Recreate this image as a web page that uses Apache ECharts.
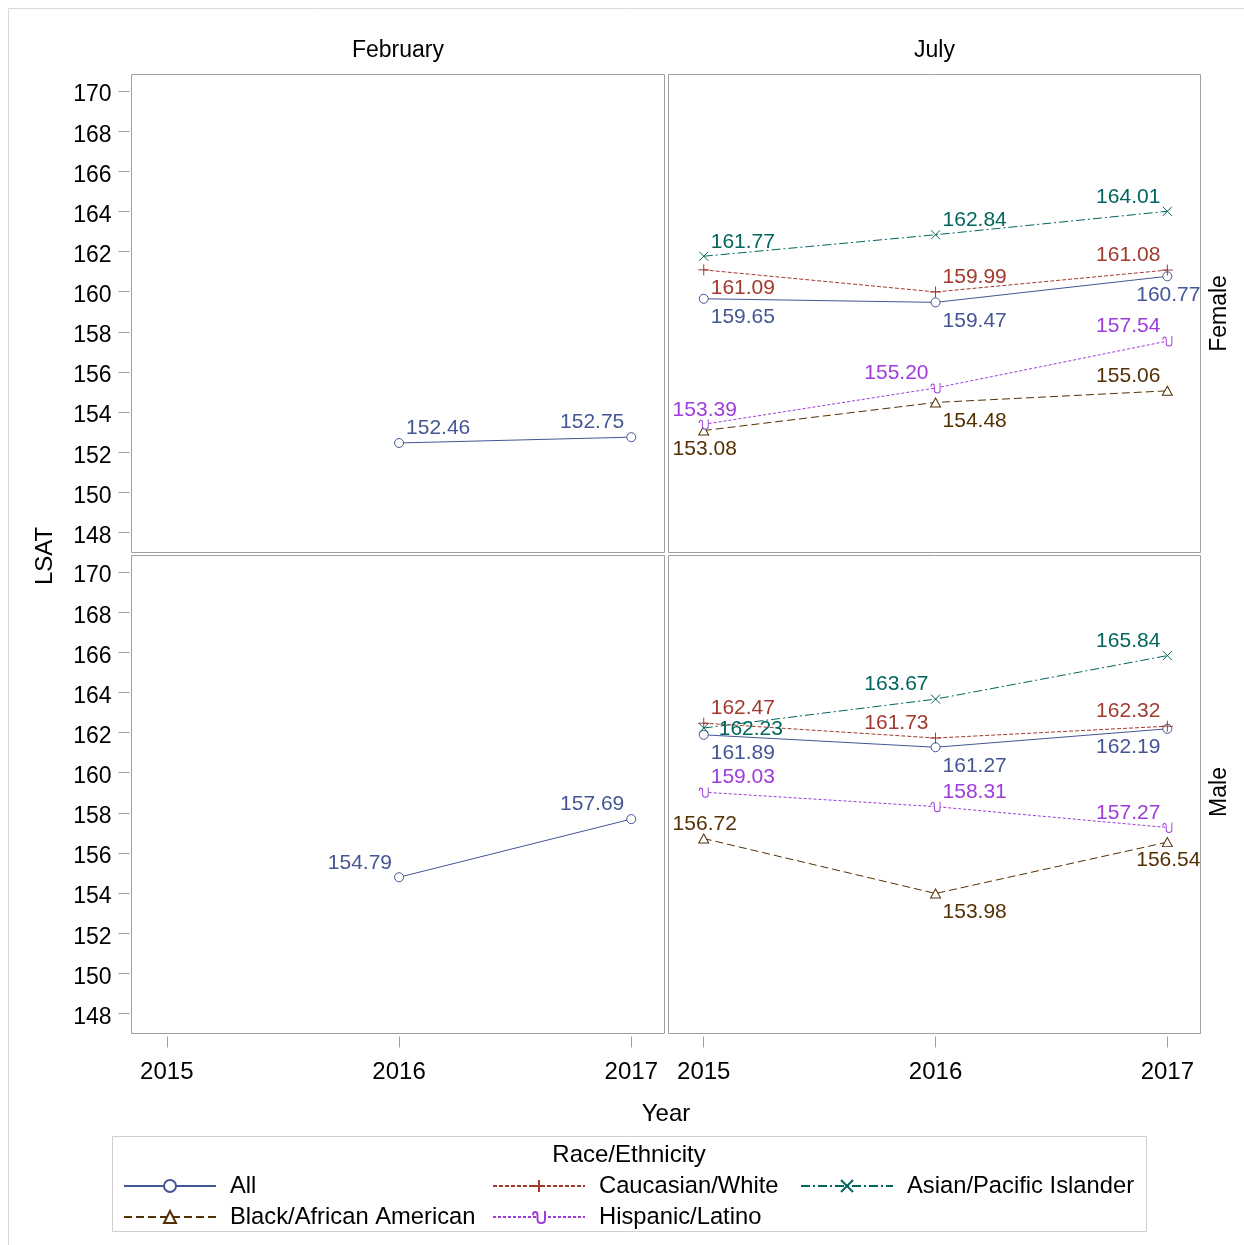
<!DOCTYPE html>
<html><head><meta charset="utf-8">
<script src="https://cdn.jsdelivr.net/npm/echarts@6/dist/echarts.min.js"></script>
<style>html,body{margin:0;padding:0;background:#fff}#c{width:1244px;height:1245px}</style>
</head><body><div id="c"></div>
<script>
// ---------- data ----------
const years = [2015, 2016, 2017];
const yTicks = [148, 150, 152, 154, 156, 158, 160, 162, 164, 166, 168, 170];
const months = ['February', 'July'];
const sexes = ['Female', 'Male'];
const groups = ['All', 'Caucasian/White', 'Asian/Pacific Islander', 'Black/African American', 'Hispanic/Latino'];

const febFemaleAll   = [null, 152.46, 152.75];
const febMaleAll     = [null, 154.79, 157.69];

const julFemaleAll   = [159.65, 159.47, 160.77];
const julFemaleWhite = [161.09, 159.99, 161.08];
const julFemaleAsian = [161.77, 162.84, 164.01];
const julFemaleBlack = [153.08, 154.48, 155.06];
const julFemaleHisp  = [153.39, 155.20, 157.54];

const julMaleAll     = [161.89, 161.27, 162.19];
const julMaleWhite   = [162.47, 161.73, 162.32];
const julMaleAsian   = [162.23, 163.67, 165.84];
const julMaleBlack   = [156.72, 153.98, 156.54];
const julMaleHisp    = [159.03, 158.31, 157.27];

// ---------- label placement (style, not data) ----------
const PLACE = {
  ar: {align: 'left',   offset: [7, -14.5]},
  al: {align: 'right',  offset: [-7, -14.5]},
  br: {align: 'left',   offset: [7, 18.5]},
  bl: {align: 'right',  offset: [-7, 18.5]},
  ac: {align: 'center', offset: [1, -14.5]},
  bc: {align: 'center', offset: [1, 18.5]},
  r:  {align: 'left',   offset: [15, 1.5]}
};

const FONT = "'Liberation Sans', Arial, Helvetica, sans-serif";
const PLUS = 'path://M5,0L5,10M0,5L10,5';
const XSYM = 'path://M0,0L10,10M10,0L0,10';
const HISP = 'path://M0,4C0,1,3,1,3,4L3,7C3,10,8,10,8,7L8,1';
const STYLE = {
  'All':                    {color: '#445694', symbol: 'circle',   size: 9,       dash: 'solid'},
  'Caucasian/White':        {color: '#A23A2E', symbol: PLUS,       size: 11,      dash: [4, 2]},
  'Asian/Pacific Islander': {color: '#01665E', symbol: XSYM,       size: 9,       dash: [9, 3, 2, 3]},
  'Black/African American': {color: '#543005', symbol: 'triangle', size: [10, 9], dash: [8, 4]},
  'Hispanic/Latino':        {color: '#9D3CDB', symbol: HISP,       size: [9, 10], dash: [3, 2]}
};

function mk(name, gi, values, places) {
  const st = STYLE[name];
  const data = [];
  years.forEach((x, i) => {
    if (values[i] == null) return;
    data.push({value: [x, values[i]], label: PLACE[places[i]]});
  });
  return {
    type: 'line', name: name, xAxisIndex: gi, yAxisIndex: gi,
    symbol: st.symbol, symbolSize: st.size, showSymbol: true,
    lineStyle: {color: st.color, width: 1, type: st.dash},
    itemStyle: {color: '#fff', borderColor: st.color, borderWidth: 1},
    label: {
      show: true, position: ['50%', '50%'], verticalAlign: 'middle',
      color: st.color, fontSize: 21, fontFamily: FONT,
      formatter: p => p.value[1].toFixed(2)
    },
    emphasis: {disabled: true},
    animation: false,
    data: data
  };
}

const series = [
  mk('All', 0, febFemaleAll, [null, 'ar', 'al']),
  mk('All', 2, febMaleAll, [null, 'al', 'al']),

  mk('All', 1, julFemaleAll, ['br', 'br', 'bc']),
  mk('Caucasian/White', 1, julFemaleWhite, ['br', 'ar', 'al']),
  mk('Asian/Pacific Islander', 1, julFemaleAsian, ['ar', 'ar', 'al']),
  mk('Black/African American', 1, julFemaleBlack, ['bc', 'br', 'al']),
  mk('Hispanic/Latino', 1, julFemaleHisp, ['ac', 'al', 'al']),

  mk('All', 3, julMaleAll, ['br', 'br', 'bl']),
  mk('Caucasian/White', 3, julMaleWhite, ['ar', 'al', 'al']),
  mk('Asian/Pacific Islander', 3, julMaleAsian, ['r', 'al', 'al']),
  mk('Black/African American', 3, julMaleBlack, ['ac', 'br', 'bc']),
  mk('Hispanic/Latino', 3, julMaleHisp, ['ar', 'ar', 'al'])
];

// ---------- layout ----------
const GRIDS = [
  {left: 131.5, top: 74.5,  width: 533, height: 478},
  {left: 668.5, top: 74.5,  width: 532, height: 478},
  {left: 131.5, top: 555.5, width: 533, height: 478},
  {left: 668.5, top: 555.5, width: 532, height: 478}
];
const TICK = '#a0a0a0';

const grid = GRIDS.map(g => Object.assign({show: true, borderColor: TICK, borderWidth: 1, backgroundColor: 'transparent'}, g));

const xAxis = GRIDS.map((g, i) => {
  const bottom = i >= 2;
  return {
    type: 'value', gridIndex: i, min: 2014.848, max: 2017.143, position: 'bottom', offset: 3,
    axisLine: {show: false}, splitLine: {show: false},
    axisTick: {show: bottom, customValues: years, length: 11, lineStyle: {color: TICK}},
    axisLabel: {show: bottom, customValues: years, margin: 24, fontSize: 24, color: '#000', fontFamily: FONT, formatter: v => String(v)}
  };
});
const yAxis = GRIDS.map((g, i) => {
  const left = (i % 2) === 0;
  return {
    type: 'value', gridIndex: i, min: 147.0, max: 170.83, position: 'left', offset: 2,
    axisLine: {show: false}, splitLine: {show: false},
    axisTick: {show: left, customValues: yTicks, length: 11, lineStyle: {color: TICK}},
    axisLabel: {show: left, customValues: yTicks, margin: 18, fontSize: 23, color: '#000', fontFamily: FONT,
      verticalAlign: 'top', lineHeight: 8, formatter: v => String(v)}
  };
});

function legendAt(name, left, top) {
  return {
    data: [name], left: left, top: top, padding: 0, orient: 'horizontal',
    itemWidth: 92, itemHeight: 15, selectedMode: false,
    textStyle: {fontSize: 23.75, color: '#000', fontFamily: FONT, padding: [0, 0, 0, 9]}
  };
}
const legend = [
  legendAt(groups[0], 123, 1174),
  legendAt(groups[1], 492, 1174),
  legendAt(groups[2], 800, 1174),
  legendAt(groups[3], 123, 1205),
  legendAt(groups[4], 492, 1205)
];

function txt(text, x, y, size, rot) {
  return {
    type: 'text', x: x, y: y, rotation: rot || 0, silent: true,
    style: {text: text, x: 0, y: 0, fill: '#000', fontSize: size, fontFamily: FONT, align: 'center', verticalAlign: 'middle'}
  };
}

const graphic = [
  {type: 'line', silent: true, shape: {x1: 8.5, y1: 8.5, x2: 1244, y2: 8.5}, style: {stroke: '#d9d9d9', lineWidth: 1}},
  {type: 'line', silent: true, shape: {x1: 8.5, y1: 8.5, x2: 8.5, y2: 1245}, style: {stroke: '#d9d9d9', lineWidth: 1}},
  txt(months[0], 398, 51, 23),
  txt(months[1], 934.5, 51, 23),
  txt(sexes[0], 1219.5, 313.5, 23, Math.PI / 2),
  txt(sexes[1], 1219.5, 792, 23, Math.PI / 2),
  txt('LSAT', 45, 556, 24, Math.PI / 2),
  txt('Year', 666, 1114, 24),
  {type: 'rect', silent: true, shape: {x: 112.5, y: 1136.5, width: 1034, height: 95}, style: {fill: 'none', stroke: '#cfcfcf', lineWidth: 1}},
  txt('Race/Ethnicity', 629, 1155, 24)
];

const chart = echarts.init(document.getElementById('c'), null, {renderer: 'canvas'});
chart.setOption({
  animation: false,
  backgroundColor: '#fff',
  grid: grid, xAxis: xAxis, yAxis: yAxis,
  legend: legend,
  series: series,
  graphic: graphic
});
</script></body></html>
